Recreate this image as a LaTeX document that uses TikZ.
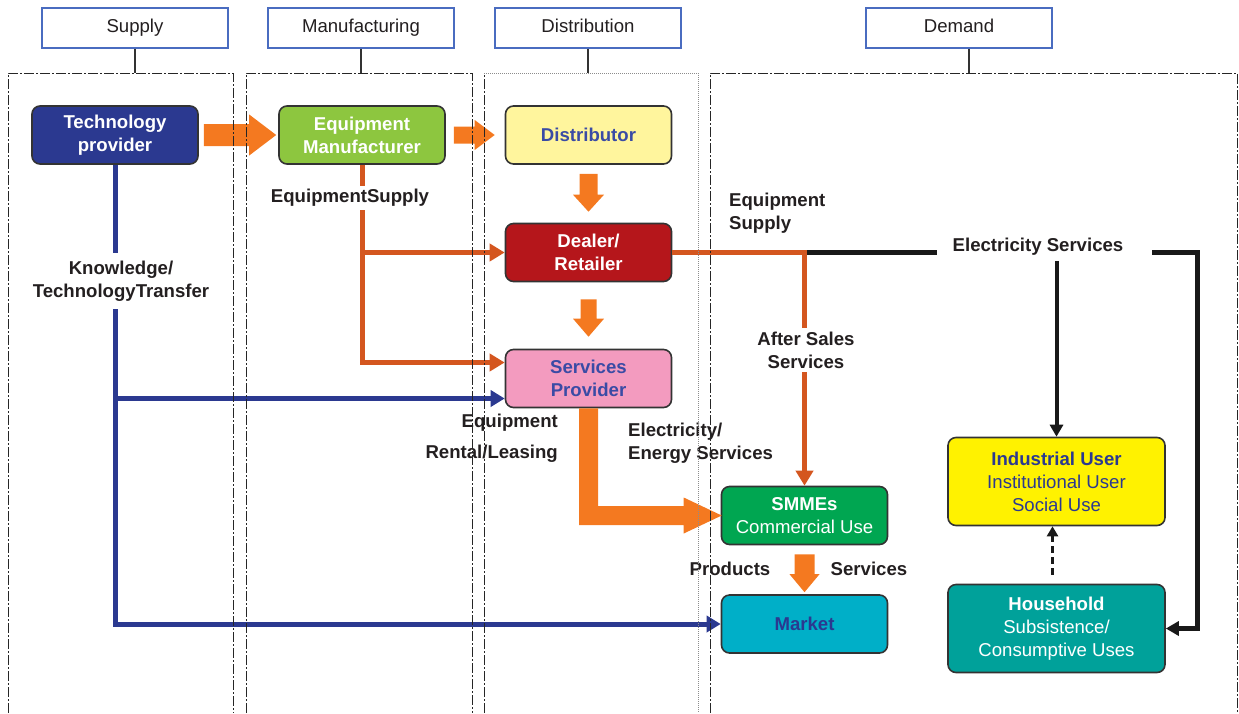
\documentclass[tikz,border=0pt]{standalone}
\usepackage{fontspec}
\setmainfont{Liberation Sans}
\usetikzlibrary{arrows.meta,calc}
\definecolor{hdrblue}{HTML}{4A6CC0}
\definecolor{navy}{HTML}{2B3990}
\definecolor{limec}{HTML}{8DC63F}
\definecolor{paleyel}{HTML}{FFF59D}
\definecolor{darkredc}{HTML}{B5161B}
\definecolor{pinkc}{HTML}{F39BBF}
\definecolor{greenc}{HTML}{00A651}
\definecolor{cyanc}{HTML}{00AFC8}
\definecolor{yelc}{HTML}{FFF200}
\definecolor{tealc}{HTML}{00A19A}
\definecolor{orA}{HTML}{F47920}
\definecolor{orB}{HTML}{D4561F}
\definecolor{txtblue}{HTML}{3A4BA5}
\definecolor{ink}{HTML}{231F20}
\newcommand\fsz{\fontsize{18.6}{23}\selectfont}
\newcommand\HBlk[5]{\fill[orA] let \p1=#1,\p2=#2 in (\x1,\y1+#3) -- (\x2-#5,\y1+#3) -- (\x2-#5,\y1+#4) -- (\x2,\y1) -- (\x2-#5,\y1-#4) -- (\x2-#5,\y1-#3) -- (\x1,\y1-#3) -- cycle;}
\newcommand\VBlk[5]{\fill[orA] let \p1=#1,\p2=#2 in (\x1-#3,\y1) -- (\x1-#3,\y2+#5) -- (\x1-#4,\y2+#5) -- (\x1,\y2) -- (\x1+#4,\y2+#5) -- (\x1+#3,\y2+#5) -- (\x1+#3,\y1) -- cycle;}
\newcommand\LBlk[5]{\fill[orA] let \p1=#1,\p2=#2 in (\x1-#3,\y1) -- (\x1-#3,\y2-#3) -- (\x2-#5,\y2-#3) -- (\x2-#5,\y2-#4) -- (\x2,\y2) -- (\x2-#5,\y2+#4) -- (\x2-#5,\y2+#3) -- (\x1+#3,\y2+#3) -- (\x1+#3,\y1) -- cycle;}
\begin{document}
\begin{tikzpicture}[x=1pt,y=-1pt,font=\fsz,
  lane/.style={draw=black!85, line width=0.9pt, dash pattern=on 10pt off 2pt on 2pt off 2pt},
  lanedot/.style={draw=black!45, line width=0.9pt, dash pattern=on 1pt off 1pt},
  hdr/.style={draw=hdrblue, line width=1.8pt, fill=white, minimum width=186pt, minimum height=40pt, inner sep=0pt, text=ink, text height=13.5pt, text depth=4pt},
  hconn/.style={draw=black!80, line width=1.3pt},
  box/.style={draw=black!80, line width=1.6pt, rounded corners=8pt, minimum width=166pt, minimum height=58pt, inner sep=0pt, align=center},
  bigbox/.style={box, minimum width=217pt, minimum height=88pt},
  lbl/.style={font=\fsz\bfseries, text=ink, align=center, inner sep=2pt},
  oc/.style={draw=orB, line width=5pt, -{Triangle[length=15pt,width=17pt]}},
  bl/.style={draw=navy, line width=5pt, -{Triangle[length=14pt,width=16pt]}},
  bk/.style={draw=black!90, line width=5pt, -{Triangle[length=13pt,width=14pt]}},
  bkthin/.style={draw=black!90, line width=4pt, -{Triangle[length=12pt,width=13pt]}},
  bkdash/.style={draw=black!90, line width=3pt, dash pattern=on 7pt off 4pt, -{Triangle[length=10pt,width=11pt]}}
]
\useasboundingbox (0,0) rectangle (1239,713);

% headers
\node[hdr] (hsup) at (135,28) {Supply};
\node[hdr] (hman) at (361,28) {Manufacturing};
\node[hdr] (hdis) at (588,28) {Distribution};
\node[hdr] (hdem) at (959,28) {Demand};

% boxes
\node[box, fill=navy, text=white, font=\fsz\bfseries] (tp) at (115,135) {Technology\\provider};
\node[box, fill=limec, text=white, font=\fsz\bfseries] (em) at (362,135) {Equipment\\Manufacturer};
\node[box, fill=paleyel, text=txtblue, font=\fsz\bfseries] (dist) at (588.5,135) {Distributor};
\node[box, fill=darkredc, text=white, font=\fsz\bfseries] (dealer) at (588.5,252.5) {Dealer/\\Retailer};
\node[box, fill=pinkc, text=txtblue, font=\fsz\bfseries] (sp) at (588.5,378.5) {Services\\Provider};
\node[box, fill=greenc, text=white] (smme) at (804.5,515.5) {\textbf{SMMEs}\\Commercial Use};
\node[box, fill=cyanc, text=navy] (mkt) at (804.5,624) {\textbf{Market}};
\node[bigbox, fill=yelc, text=navy] (ind) at (1056.5,481.5) {\textbf{Industrial User}\\Institutional User\\Social Use};
\node[bigbox, fill=tealc, text=white] (hh) at (1056.5,628.5) {\textbf{Household}\\Subsistence/\\Consumptive Uses};

% block arrows
\HBlk{($(tp.east)+(5,0)$)}{($(em.west)+(-2,0)$)}{11pt}{20.5pt}{27pt}
\HBlk{($(em.east)+(8,0)$)}{($(dist.west)+(-10,0)$)}{8.5pt}{15pt}{20pt}
\VBlk{($(dist.south)+(0,9)$)}{($(dealer.north)+(0,-11)$)}{9pt}{15.5pt}{17pt}
\VBlk{($(dealer.south)+(0,17)$)}{($(sp.north)+(0,-12)$)}{8pt}{15.5pt}{18pt}
\VBlk{($(smme.south)+(0,9)$)}{($(mkt.north)+(0,-2)$)}{10pt}{15pt}{18pt}
\LBlk{(sp.south)}{($(smme.west)+(1,0)$)}{9.5pt}{18pt}{38pt}

% black electricity lines
\coordinate (jn) at (smme.north |- dealer.east);
\coordinate (rc) at ($(hh.east |- dealer.east)+(32,0)$);
\draw[bk] (jn) -- (rc) |- (hh.east);
\node[lbl, fill=white, inner xsep=16pt, inner ysep=3pt] (es) at (1044.5,247) {Electricity Services\hspace*{13pt}};
\draw[bkthin] ($(es.south -| ind.north)+(0,2)$) -- (ind.north);
\draw[bkdash] ($(hh.north)+(-4,-9)$) -- ($(ind.south)+(-4,0)$);

% orange connectors
\draw[oc] (dealer.east) -- (jn) -- (smme.north);
\node[lbl, fill=white, inner ysep=4pt] (asl) at (806,350) {After Sales\\Services};
\coordinate (eqs) at ($(sp.west)+(0,-16)$);
\draw[oc] (em.south) |- (eqs);
\draw[oc] (em.south |- dealer.west) -- (dealer.west);
\node[lbl, fill=white, inner ysep=3pt] (esl) at (350,198) {EquipmentSupply};

% blue connectors
\coordinate (spb) at ($(sp.west)+(0,20)$);
\draw[bl] (tp.south) |- (mkt.west);
\draw[bl] (tp.south |- spb) -- (spb);
\node[lbl, fill=white, inner ysep=8pt] (ktl) at (121,281) {Knowledge/\\TechnologyTransfer};

% free labels
\node[lbl, anchor=west, align=left] at (727,213.5) {Equipment\\Supply};
\node[lbl, anchor=east, align=right] at (560,438.5) {Equipment\\[8pt]Rental/Leasing};
\node[lbl, anchor=west, align=left] at (626,443.5) {Electricity/\\Energy Services};
\node[lbl] at (730,569) {Products};
\node[lbl] at (869,569) {Services};

% lanes
\draw[lane] (8,713) -- (8,73) -- (233,73) -- (233,713);
\draw[lane] (246,713) -- (246,73) -- (472,73) -- (472,713);
\draw[lane] (484,713) -- (484,73);
\draw[lanedot] (484,73) -- (698,73) -- (698,713);
\draw[lane] (710,713) -- (710,73) -- (1237,73) -- (1237,713);

% header connectors
\draw[hconn] (hsup.south) -- (hsup.south |- 0,73);
\draw[hconn] (hman.south) -- (hman.south |- 0,73);
\draw[hconn] (hdis.south) -- (hdis.south |- 0,73);
\draw[hconn] ($(hdem.south)+(10,0)$) -- ($(hdem.south |- 0,73)+(10,0)$);
\end{tikzpicture}
\end{document}
